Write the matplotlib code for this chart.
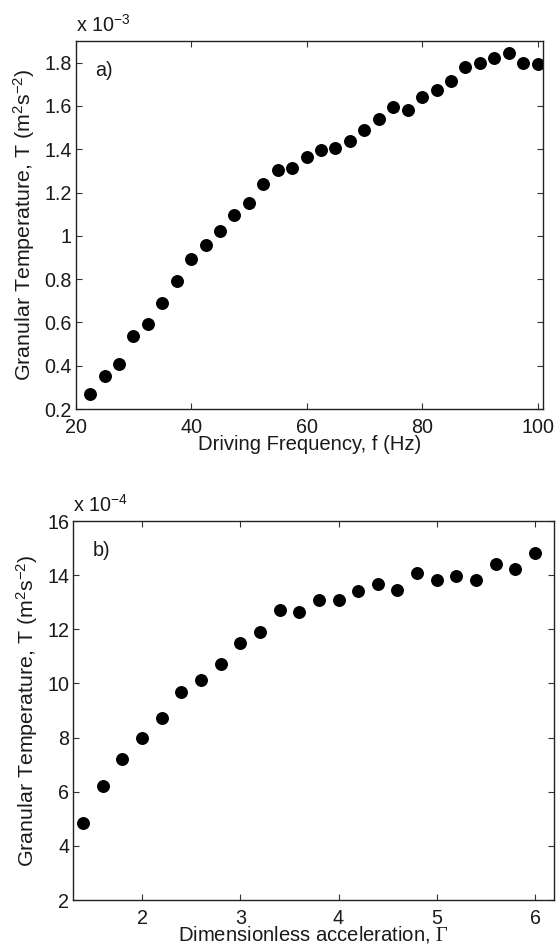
import matplotlib
matplotlib.use("Agg")
import matplotlib.pyplot as plt
from matplotlib.ticker import FuncFormatter

plt.rcParams['font.family'] = ['Liberation Sans', 'DejaVu Sans']
plt.rcParams['mathtext.fontset'] = 'custom'
plt.rcParams['mathtext.rm'] = 'Liberation Sans'
plt.rcParams['mathtext.it'] = 'Liberation Sans:italic'
plt.rcParams['mathtext.cal'] = 'Liberation Serif'

# Panel a: driving frequency (Hz) vs granular temperature (x 1e-3 m^2 s^-2)
freq = [22.5, 25, 27.5, 30, 32.5, 35, 37.5, 40, 42.5, 45, 47.5, 50,
        52.5, 55, 57.5, 60, 62.5, 65, 67.5, 70, 72.5, 75, 77.5, 80,
        82.5, 85, 87.5, 90, 92.5, 95, 97.5, 100]
temp_a = [0.270, 0.354, 0.409, 0.536, 0.593, 0.688, 0.791, 0.891, 0.957, 1.021, 1.095, 1.150,
          1.238, 1.305, 1.315, 1.364, 1.398, 1.407, 1.439, 1.490, 1.541, 1.593, 1.581, 1.643,
          1.673, 1.715, 1.778, 1.798, 1.823, 1.843, 1.798, 1.792]

# Panel b: dimensionless acceleration vs granular temperature (x 1e-4 m^2 s^-2)
gamma = [1.4, 1.6, 1.8, 2.0, 2.2, 2.4, 2.6, 2.8, 3.0, 3.2, 3.4, 3.6,
         3.8, 4.0, 4.2, 4.4, 4.6, 4.8, 5.0, 5.2, 5.4, 5.6, 5.8, 6.0]
temp_b = [4.85, 6.21, 7.20, 8.00, 8.72, 9.70, 10.11, 10.71, 11.48, 11.89, 12.70, 12.63,
          13.10, 13.08, 13.40, 13.67, 13.46, 14.09, 13.82, 13.97, 13.81, 14.42, 14.24, 14.83]

xticks_a = [20, 40, 60, 80, 100]
yticks_a = [0.2, 0.4, 0.6, 0.8, 1.0, 1.2, 1.4, 1.6, 1.8]
xticks_b = [2, 3, 4, 5, 6]
yticks_b = [2, 4, 6, 8, 10, 12, 14, 16]

W, H = 556, 946
fig = plt.figure(figsize=(W / 100, H / 100), dpi=100)

def px_axes(l, t, r, b):
    return fig.add_axes([l / W, 1 - b / H, (r - l) / W, (b - t) / H])

ax1 = px_axes(75.7, 41, 543.3, 409)
ax2 = px_axes(73.3, 521, 553.7, 900)

fmt = FuncFormatter(lambda v, p: ('%g' % round(v, 6)))
ylabel = 'Granular Temperature, T (m$^{2}$s$^{-2}$)'
tfs = 14.2   # tick labels
lfs = 14.6   # x labels
yfs = 15.4   # y labels
tc = '#1a1a1a'

for ax in (ax1, ax2):
    ax.tick_params(direction='in', top=True, right=True, length=4, width=0.8,
                   labelsize=tfs, color='#333333', labelcolor=tc)
    ax.tick_params(axis='x', pad=6.5)
    ax.tick_params(axis='y', pad=3)
    for s in ax.spines.values():
        s.set_linewidth(1.0)
        s.set_color('#222222')
    ax.yaxis.set_major_formatter(fmt)
    ax.xaxis.set_major_formatter(fmt)

ax1.plot(freq, temp_a, 'o', color='black', markersize=8.3, linestyle='none')
ax1.set_xlim(20, 101)
ax1.set_ylim(0.2, 1.9)
ax1.set_xticks(xticks_a)
ax1.set_yticks(yticks_a)
ax1.set_xlabel('Driving Frequency, f (Hz)', fontsize=lfs, labelpad=-1.5, color=tc)
ax1.set_ylabel(ylabel, fontsize=yfs, labelpad=5, color=tc)
ax1.text(0.0, 1.015, r'x 10$^{-3}$', transform=ax1.transAxes, fontsize=tfs,
         ha='left', va='bottom', color=tc)
ax1.text(0.041, 0.921, 'a)', transform=ax1.transAxes, fontsize=tfs,
         ha='left', va='center', color=tc)

ax2.plot(gamma, temp_b, 'o', color='black', markersize=8.3, linestyle='none')
ax2.set_xlim(1.3, 6.19)
ax2.set_ylim(2, 16)
ax2.set_xticks(xticks_b)
ax2.set_yticks(yticks_b)
ax2.set_xlabel(r'Dimensionless acceleration, $\mathcal{\Gamma}$', fontsize=lfs,
               labelpad=-3, color=tc)
ax2.set_ylabel(ylabel, fontsize=yfs, labelpad=5, color=tc)
ax2.text(0.0, 1.015, r'x 10$^{-4}$', transform=ax2.transAxes, fontsize=tfs,
         ha='left', va='bottom', color=tc)
ax2.text(0.041, 0.922, 'b)', transform=ax2.transAxes, fontsize=tfs,
         ha='left', va='center', color=tc)

fig.savefig('out.png', dpi=100)
